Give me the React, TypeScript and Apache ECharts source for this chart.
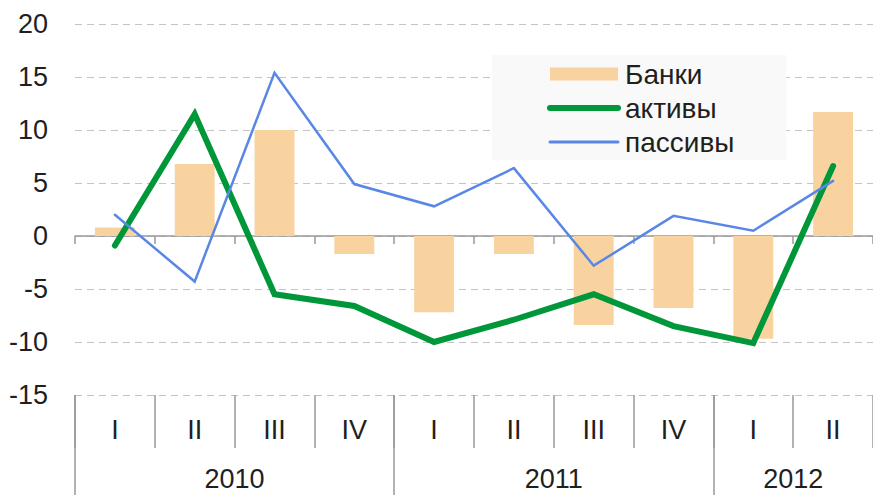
import React, { useEffect, useRef } from "react";
import * as echarts from "echarts";

const quarters = ["I", "II", "III", "IV", "I", "II", "III", "IV", "I", "II"];
const years = ["2010", "2011", "2012"];
const yearStarts = [0, 4, 8];
const yearCenters = [2, 6, 9];
const banks = [0.8, 6.8, 10.0, -1.7, -7.2, -1.7, -8.4, -6.8, -9.7, 11.7];
const assets = [-0.9, 11.5, -5.5, -6.6, -10.0, -7.9, -5.5, -8.5, -10.1, 6.6];
const liabilities = [2.0, -4.3, 15.4, 4.9, 2.8, 6.4, -2.8, 1.9, 0.5, 5.2];

const FONT = "'Liberation Sans', Arial, sans-serif";
const TXT = "#1f1f1f";
const GREEN = "#00973A";
const BLUE = "#5A87E6";

export default function App() {
  const ref = useRef<HTMLDivElement>(null);
  useEffect(() => {
    if (!ref.current) return;
    const chart = echarts.init(ref.current, null, { renderer: "svg" });
    chart.setOption({
      animation: false,
      textStyle: { fontFamily: FONT },
      grid: { left: 75, right: -3, top: 24, bottom: 100, containLabel: false },
      legend: {
        orient: "vertical",
        left: 492,
        top: 55,
        padding: [5, 52, 4, 55],
        backgroundColor: "#f9f9f9",
        itemWidth: 68,
        itemHeight: 13,
        itemGap: 6,
        textStyle: { fontSize: 28, color: TXT, fontFamily: FONT, padding: [0, 0, 0, 2] },
        data: [
          { name: "Банки", icon: "rect" },
          { name: "активы", itemStyle: { opacity: 0 }, lineStyle: { width: 6, cap: "round", color: GREEN } },
          { name: "пассивы", itemStyle: { opacity: 0 }, lineStyle: { width: 3, cap: "round", color: BLUE } },
        ],
      },
      xAxis: [
        {
          type: "category",
          data: quarters,
          boundaryGap: true,
          axisLine: { onZero: true, lineStyle: { color: "#999", width: 1.5 } },
          axisTick: { show: true, interval: 0, length: 8, lineStyle: { color: "#999", width: 1.5 } },
          axisLabel: { show: false },
          splitLine: { show: false },
        },
        {
          type: "category",
          data: quarters,
          position: "bottom",
          boundaryGap: true,
          axisLine: { show: false, onZero: false },
          axisTick: { show: true, interval: 0, length: 53, lineStyle: { color: "#999", width: 1.5 } },
          axisLabel: { show: true, interval: 0, margin: 21, fontSize: 27, color: TXT, fontFamily: FONT },
          splitLine: { show: false },
        },
        {
          type: "value",
          min: 0,
          max: quarters.length,
          position: "bottom",
          axisLine: { show: false, onZero: false },
          axisTick: { show: true, customValues: yearStarts, length: 100, lineStyle: { color: "#999", width: 1.5 } },
          axisLabel: {
            show: true,
            customValues: yearCenters,
            margin: 70,
            fontSize: 27,
            color: TXT,
            fontFamily: FONT,
            formatter: (v: number) => {
              const i = yearCenters.indexOf(v);
              return i >= 0 ? years[i] : "";
            },
          },
          splitLine: { show: false },
        },
      ],
      yAxis: {
        type: "value",
        min: -15,
        max: 20,
        interval: 5,
        axisLine: { show: false },
        axisTick: { show: false },
        axisLabel: { margin: 27, fontSize: 27, color: TXT, fontFamily: FONT },
        splitLine: { show: true, lineStyle: { color: "#c4c4c4", type: [7, 5], width: 1.2 } },
      },
      series: [
        {
          name: "Банки",
          type: "bar",
          xAxisIndex: 0,
          data: banks,
          barWidth: "50%",
          itemStyle: { color: "#F8D3A0" },
        },
        {
          name: "активы",
          type: "line",
          xAxisIndex: 0,
          data: assets,
          symbol: "none",
          lineStyle: { color: GREEN, width: 6, cap: "round", join: "miter" },
          itemStyle: { color: GREEN },
        },
        {
          name: "пассивы",
          type: "line",
          xAxisIndex: 0,
          data: liabilities,
          symbol: "none",
          lineStyle: { color: BLUE, width: 2.5, cap: "round", join: "miter" },
          itemStyle: { color: BLUE },
        },
      ],
    });
    return () => chart.dispose();
  }, []);
  return (
    <div
      ref={ref}
      style={{ position: "fixed", left: 0, top: 0, width: 873, height: 495, background: "#fff" }}
    />
  );
}
